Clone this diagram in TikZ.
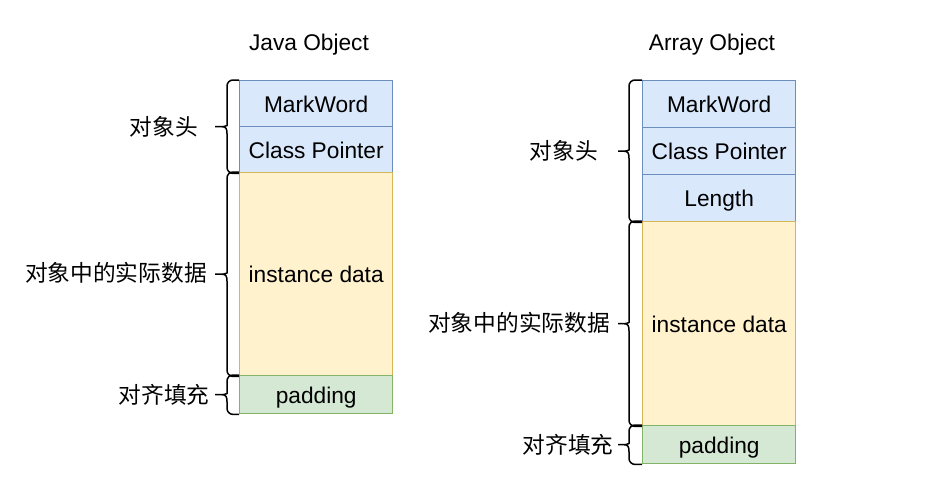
\documentclass[tikz,border=0pt]{standalone}
\usepackage{fontspec}
\setmainfont{Liberation Sans}
\newfontfamily\cjk{Noto Sans CJK SC}
\usetikzlibrary{calc}
\definecolor{bfill}{HTML}{DAE8FC}
\definecolor{bline}{HTML}{6C8EBF}
\definecolor{yfill}{HTML}{FFF2CC}
\definecolor{yline}{HTML}{D6B656}
\definecolor{gfill}{HTML}{D5E8D4}
\definecolor{gline}{HTML}{82B366}
\tikzset{
  cell/.style={draw, line width=1.4pt, minimum width=153pt, anchor=north west, inner sep=0pt,
    text height=20pt, text depth=3pt, font=\fontsize{22.7}{27}\selectfont},
  bcell/.style={cell, fill=bfill, draw=bline},
  ycell/.style={cell, fill=yfill, draw=yline},
  gcell/.style={cell, fill=gfill, draw=gline},
  lbl/.style={inner sep=0pt, font=\fontsize{22.7}{27}\selectfont\cjk},
  ttl/.style={inner sep=0pt, text height=20pt, text depth=3pt, font=\fontsize{22.7}{27}\selectfont},
  brc/.style={draw=black, line width=1.5pt, line join=round}
}
\newcommand{\mybrace}[3]{% #1 top point, #2 bottom point, #3 inset of vertical
  \path let \p1=(#1), \p2=(#2), \n1={(\y1+\y2)/2} in
    [brc] (\x1,\y1) [rounded corners=6pt] -- (\x1-#3,\y1) -- (\x1-#3,\n1+7pt) [sharp corners]
    .. controls (\x1-#3,\n1+2pt) and (\x1-#3-1pt,\n1) .. (\x1-#3-5pt,\n1) -- (\x1-24pt,\n1)
    (\x1-#3-5pt,\n1) .. controls (\x1-#3-1pt,\n1) and (\x1-#3,\n1-2pt) .. (\x1-#3,\n1-7pt)
    [rounded corners=6pt] -- (\x1-#3,\y2) -- (\x1,\y2);
}
\begin{document}
\begin{tikzpicture}[x=1pt,y=-1pt]
\useasboundingbox[fill=white] (0,0) rectangle (946,490);
% titles
\node[ttl] (t1) at (309,42) {Java Object};
\node[ttl] (t2) at (712,42) {Array Object};
% left column
\node[bcell, minimum height=46pt] (lmw) at (239,80) {MarkWord};
\node[bcell, minimum height=46pt] (lcp) at (239,126) {Class Pointer};
\node[ycell, minimum height=203pt] (lid) at (239,172) {instance data};
\node[gcell, minimum height=38pt] (lpd) at (239,375) {padding};
% right column
\node[bcell, minimum height=47pt] (rmw) at (642,80) {MarkWord};
\node[bcell, minimum height=47pt] (rcp) at (642,127) {Class Pointer};
\node[bcell, minimum height=47pt] (rln) at (642,174) {Length};
\node[ycell, minimum height=204pt] (rid) at (642,221) {instance data};
\node[gcell, minimum height=38pt] (rpd) at (642,425) {padding};
% braces
\mybrace{lmw.north west}{lcp.south west}{12pt}
\mybrace{lid.north west}{lid.south west}{12pt}
\mybrace{lpd.north west}{lpd.south west}{12pt}
\mybrace{rmw.north west}{rln.south west}{13pt}
\mybrace{rid.north west}{rid.south west}{13pt}
\mybrace{rpd.north west}{rpd.south west}{13pt}
% labels
\node[lbl] (a1) at (164,127) {对象头};
\node[lbl] (a2) at (116,273) {对象中的实际数据};
\node[lbl] (a3) at (164,395) {对齐填充};
\node[lbl] (b1) at (564,151) {对象头};
\node[lbl] (b2) at (519,323) {对象中的实际数据};
\node[lbl] (b3) at (568,445) {对齐填充};
\end{tikzpicture}
\end{document}
